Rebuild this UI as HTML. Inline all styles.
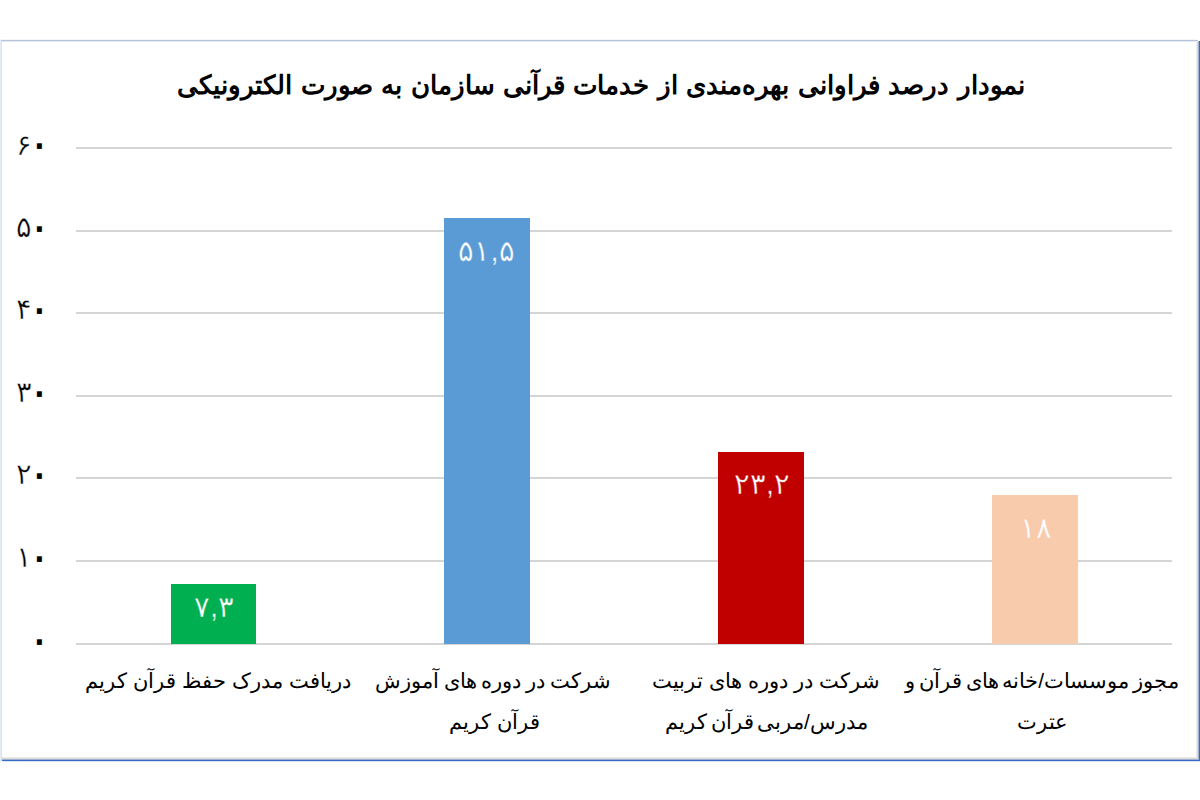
<!DOCTYPE html>
<html lang="fa">
<head>
<meta charset="utf-8">
<style>
html,body{margin:0;padding:0;background:#ffffff;}
body{width:1200px;height:800px;position:relative;overflow:hidden;font-family:"Liberation Sans",sans-serif;color:#000;}
.abs{position:absolute;}
.f{position:absolute;}
.grid{left:76px;width:1096px;height:2px;background:#d5d5d5;}
.bar{position:absolute;}
.ylab{position:absolute;left:0;width:60px;height:30px;font-size:29px;line-height:30px;white-space:nowrap;}
.ylab i{font-style:normal;position:absolute;right:28.5px;top:0;-webkit-text-stroke:0.45px #fff;}
.ylab b{font-weight:normal;font-size:46px;position:absolute;left:26.5px;top:-1.5px;line-height:30px;}
.title{position:absolute;left:1px;width:1200px;top:68px;text-align:center;font-size:26px;font-weight:bold;line-height:34px;word-spacing:1.2px;direction:rtl;}
.cat{position:absolute;width:274px;text-align:center;font-size:21px;line-height:42px;direction:rtl;white-space:nowrap;}
.dl{position:absolute;width:85px;text-align:center;color:#fff;font-size:29px;line-height:30px;}
</style>
</head>
<body>
<div class="f" style="left:1px;top:39px;width:1196px;height:1px;background:#f2f5fa"></div>
<div class="f" style="left:1px;top:40px;width:1197px;height:1px;background:#b3c3e0"></div>
<div class="f" style="left:2px;top:41px;width:1195px;height:1px;background:#e8e9eb"></div>
<div class="f" style="left:0;top:40px;width:1px;height:722px;background:#e4ecf8"></div>
<div class="f" style="left:1px;top:41px;width:1px;height:720px;background:#dce2ed"></div>
<div class="f" style="left:2px;top:757px;width:1195px;height:1px;background:#eceae7"></div>
<div class="f" style="left:2px;top:758px;width:1195px;height:1px;background:#dcdad6"></div>
<div class="f" style="left:1196px;top:42px;width:1px;height:716px;background:#eceae7"></div>
<div class="f" style="left:1197px;top:42px;width:1px;height:717px;background:#dcdad6"></div>
<div class="f" style="left:2px;top:759px;width:1196px;height:1px;background:#9eb0d6"></div>
<div class="f" style="left:1198px;top:41px;width:1px;height:719px;background:#9eb0d6"></div>
<div class="f" style="left:2px;top:760px;width:1198px;height:1px;background:#3a6bc4"></div>
<div class="f" style="left:1199px;top:41px;width:1px;height:720px;background:#3a6bc4"></div>
<div class="f" style="left:3px;top:761px;width:1197px;height:1px;background:#dbe3f3"></div>

<div class="title">نمودار درصد فراوانی بهره‌مندی از خدمات قرآنی سازمان به صورت الکترونیکی</div>

<div class="abs grid" style="top:147px"></div>
<div class="abs grid" style="top:230px"></div>
<div class="abs grid" style="top:312px"></div>
<div class="abs grid" style="top:395px"></div>
<div class="abs grid" style="top:477px"></div>
<div class="abs grid" style="top:560px"></div>
<div class="abs grid" style="top:643px"></div>

<div class="ylab" style="top:129.5px"><i>۶</i><b>۰</b></div>
<div class="ylab" style="top:212px"><i>۵</i><b>۰</b></div>
<div class="ylab" style="top:294px"><i>۴</i><b>۰</b></div>
<div class="ylab" style="top:377px"><i>۳</i><b>۰</b></div>
<div class="ylab" style="top:459px"><i>۲</i><b>۰</b></div>
<div class="ylab" style="top:542px"><i>۱</i><b>۰</b></div>
<div class="ylab" style="top:625px"><b>۰</b></div>

<div class="bar" style="left:171px;top:584px;width:85px;height:60px;background:#00b050"></div>
<div class="bar" style="left:444px;top:218px;width:86px;height:426px;background:#5b9bd5"></div>
<div class="bar" style="left:718px;top:452px;width:86px;height:192px;background:#c00000"></div>
<div class="bar" style="left:992px;top:495px;width:86px;height:149px;background:#f8cbad"></div>

<div class="dl" style="left:171.5px;top:591.7px;-webkit-text-stroke:0.4px #00b050">۷,۳</div>
<div class="dl" style="left:444px;top:235.9px;-webkit-text-stroke:0.4px #5b9bd5">۵۱,۵</div>
<div class="dl" style="left:719.5px;top:468.5px;-webkit-text-stroke:0.4px #c00000">۲۳,۲</div>
<div class="dl" style="left:993.8px;top:513px;-webkit-text-stroke:0.4px #f8cbad">۱۸</div>

<div class="cat" style="left:81px;top:660px">دریافت مدرک حفظ قرآن کریم</div>
<div class="cat" style="left:356px;top:660px;word-spacing:-1px">شرکت در دوره های آموزش</div>
<div class="cat" style="left:357.5px;top:701px">قرآن کریم</div>
<div class="cat" style="left:629px;top:660px">شرکت در دوره های تربیت</div>
<div class="cat" style="left:629.5px;top:701px;word-spacing:-2.5px">مدرس/مربی قرآن کریم</div>
<div class="cat" style="left:905px;top:660px;word-spacing:-2.2px">مجوز موسسات/خانه های قرآن و</div>
<div class="cat" style="left:905px;top:701px">عترت</div>
</body>
</html>
